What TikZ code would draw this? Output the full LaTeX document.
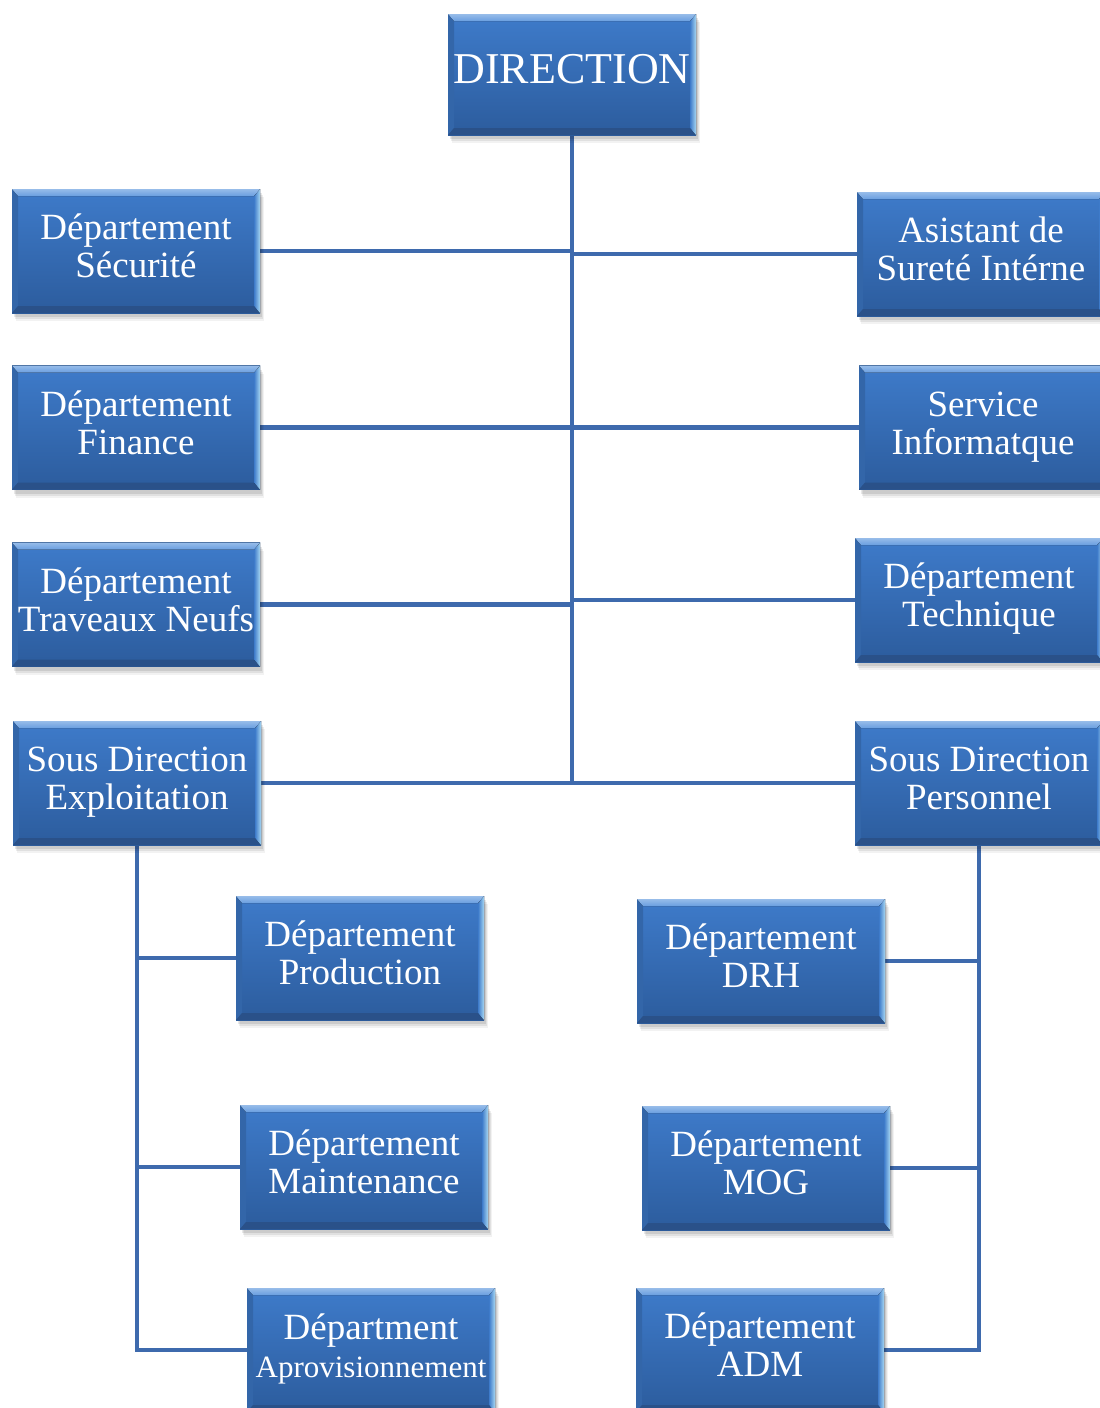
\documentclass[tikz,border=0pt]{standalone}
\usepackage{fontspec}
\setmainfont{Liberation Serif}
\definecolor{boxtop}{HTML}{3E7BCA}
\definecolor{boxbot}{HTML}{2C5C9D}
\definecolor{bevtop}{HTML}{6A9FE0}
\definecolor{bevright}{HTML}{A6D6F2}
\definecolor{bevbot}{HTML}{2A5189}
\definecolor{bevleft}{HTML}{3366A9}
\definecolor{linecol}{HTML}{3E6AAD}
\pgfdeclarelayer{bg}
\pgfdeclarelayer{lines}
\pgfsetlayers{bg,lines,main}
\tikzset{
  orgbox/.style={minimum width=248pt, minimum height=124pt, inner sep=0pt,
    top color=boxtop, bottom color=boxbot, text=white, align=center,
    font=\fontsize{37}{38}\selectfont,
    preaction={fill=black, fill opacity=0.05, transform canvas={xshift=4pt,yshift=-8pt}},
    preaction={fill=black, fill opacity=0.07, transform canvas={xshift=3pt,yshift=-6pt}},
    preaction={fill=black, fill opacity=0.09, transform canvas={xshift=2pt,yshift=-4pt}},
    path picture={
      \path (path picture bounding box.north west) coordinate (qnw)
            (path picture bounding box.north east) coordinate (qne)
            (path picture bounding box.south west) coordinate (qsw)
            (path picture bounding box.south east) coordinate (qse);
      \fill[bevleft] (qsw) -- (qnw) -- ([xshift=6pt,yshift=-7pt]qnw) -- ([xshift=6pt,yshift=7pt]qsw) -- cycle;
      \fill[bevbot] (qse) -- (qsw) -- ([xshift=6pt,yshift=7pt]qsw) -- ([xshift=-6pt,yshift=7pt]qse) -- cycle;
      \fill[left color=boxtop, right color=bevright] (qne) -- (qse) -- ([xshift=-6pt,yshift=7pt]qse) -- ([xshift=-6pt,yshift=-7pt]qne) -- cycle;
      \fill[top color=bevtop!70!white, bottom color=bevtop] (qnw) -- (qne) -- ([xshift=-6pt,yshift=-7pt]qne) -- ([xshift=6pt,yshift=-7pt]qnw) -- cycle;
    }},
  conn/.style={draw=linecol, line width=4.5pt}
}
\begin{document}
\begin{tikzpicture}[x=1pt,y=-1pt]
\begin{pgfonlayer}{bg}
\fill[white] (0,0) rectangle (1100,1408);
\end{pgfonlayer}
\useasboundingbox (0,0) rectangle (1100,1408);

\node[orgbox, minimum height=121pt, font=\fontsize{44}{46}\selectfont] (dir) at (572,74.5) {\strut DIRECTION};

\node[orgbox] (sec)  at (136,251)   {\strut Département\\\strut Sécurité};
\node[orgbox] (fin)  at (136,427.5) {\strut Département\\\strut Finance};
\node[orgbox] (trav) at (136,604.5) {\strut Département\\\strut Traveaux Neufs};
\node[orgbox] (expl) at (137,783)   {\strut Sous Direction\\\strut Exploitation};

\node[orgbox] (asis) at (981,254)   {\strut Asistant de\\\strut Sureté Intérne};
\node[orgbox] (serv) at (983,427.5) {\strut Service\\\strut Informatque};
\node[orgbox] (tech) at (979,600)   {\strut Département\\\strut Technique};
\node[orgbox] (pers) at (979,783)   {\strut Sous Direction\\\strut Personnel};

\node[orgbox] (prod)  at (360,958)  {\strut Département\\\strut Production};
\node[orgbox] (maint) at (364,1167) {\strut Département\\\strut Maintenance};
\node[orgbox] (aprov) at (371,1350) {\strut Départment\\{\fontsize{31}{35}\selectfont\strut Aprovisionnement}};

\node[orgbox] (drh) at (761,961)  {\strut Département\\\strut DRH};
\node[orgbox] (mog) at (766,1168) {\strut Département\\\strut MOG};
\node[orgbox] (adm) at (760,1350) {\strut Département\\\strut ADM};

\coordinate (trunkend) at (572,781);

\begin{pgfonlayer}{lines}
\draw[conn] (dir.south) -- (trunkend);
\draw[conn] (sec.east) -- (sec.east -| trunkend);
\draw[conn] (fin.east) -- (fin.east -| trunkend);
\draw[conn] (trav.east) -- (trav.east -| trunkend);
\draw[conn] (expl.east) -- (pers.west);
\draw[conn] (asis.west) -- (asis.west -| trunkend);
\draw[conn] (serv.west) -- (serv.west -| trunkend);
\draw[conn] (tech.west) -- (tech.west -| trunkend);

\draw[conn] (expl.south) |- (aprov.west);
\draw[conn] (prod.west) -- (prod.west -| expl.south);
\draw[conn] (maint.west) -- (maint.west -| expl.south);

\draw[conn] (pers.south) |- (adm.east);
\draw[conn] (drh.east) -- (drh.east -| pers.south);
\draw[conn] (mog.east) -- (mog.east -| pers.south);
\end{pgfonlayer}
\end{tikzpicture}
\end{document}
